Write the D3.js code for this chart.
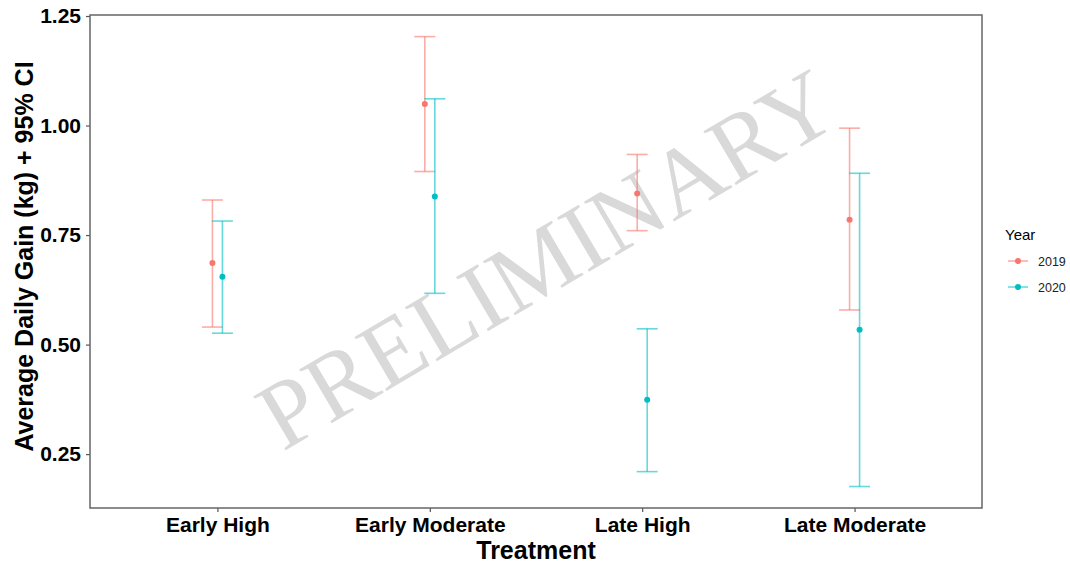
<!DOCTYPE html>
<html>
<head>
<meta charset="utf-8">
<script src="https://cdn.jsdelivr.net/npm/d3@7"></script>
<style>
  body { margin: 0; background: #fff; }
  text { font-family: "Liberation Sans", Arial, sans-serif; }
</style>
</head>
<body>
<div id="plot"></div>
<script>
// Data
const treatments = ['Early High', 'Early Moderate', 'Late High', 'Late Moderate'];
const years = ['2019', '2020'];
const mean2019 = [0.686, 1.049, 0.845, 0.785];
const lower2019 = [0.540, 0.895, 0.760, 0.579];
const upper2019 = [0.830, 1.203, 0.934, 0.994];
const mean2020 = [0.655, 0.838, 0.374, 0.534];
const lower2020 = [0.526, 0.617, 0.210, 0.176];
const upper2020 = [0.782, 1.061, 0.536, 0.891];
const yTicks = [0.25, 0.50, 0.75, 1.00, 1.25];
const yearColors = ['#F8766D', '#00BFC4'];

const W = 1070, H = 566;
const margin = {top: 15, right: 88, bottom: 58, left: 90};
const width = W - margin.left - margin.right;
const height = H - margin.top - margin.bottom;

const svg = d3.select('#plot').append('svg')
  .attr('width', W)
  .attr('height', H);

const g = svg.append('g')
  .attr('transform', 'translate(' + margin.left + ',' + margin.top + ')');

// Build rows [treatment, year, mean, lower, upper]
const rows = [];
treatments.forEach((t, i) => {
  rows.push({t: t, year: years[0], mean: mean2019[i], lo: lower2019[i], hi: upper2019[i]});
  rows.push({t: t, year: years[1], mean: mean2020[i], lo: lower2020[i], hi: upper2020[i]});
});

// Scales (0.6 step of outer padding, like ggplot's discrete expansion)
const x = d3.scalePoint()
  .domain(treatments)
  .range([0, width])
  .padding(0.6);
const dodge = d3.scalePoint().domain(years).range([-5, 5]);
const color = d3.scaleOrdinal().domain(years).range(yearColors);

const y = d3.scaleLinear()
  .domain([0.127, 1.2523])
  .range([height, 0]);

// Watermark
g.append('text')
  .attr('transform', 'translate(' + (546 - margin.left) + ',' + (258 - margin.top) + ') rotate(-30.5)')
  .attr('text-anchor', 'middle')
  .attr('dy', '0.35em')
  .style('font-family', '"Liberation Serif", "Times New Roman", serif')
  .style('font-size', '96px')
  .style('fill', '#d9d9d9')
  .text('PRELIMINARY');

// Error bars
const bars = g.append('g').selectAll('g.bar')
  .data(rows)
  .enter()
  .append('g')
  .attr('transform', d => 'translate(' + (x(d.t) + dodge(d.year)) + ',0)')
  .style('stroke', d => color(d.year))
  .style('stroke-width', 1.6)
  .style('stroke-opacity', 0.6);

bars.append('line')
  .attr('y1', d => y(d.lo))
  .attr('y2', d => y(d.hi));
bars.append('line')
  .attr('x1', -10.5).attr('x2', 10.5)
  .attr('y1', d => y(d.lo)).attr('y2', d => y(d.lo));
bars.append('line')
  .attr('x1', -10.5).attr('x2', 10.5)
  .attr('y1', d => y(d.hi)).attr('y2', d => y(d.hi));

// Points
g.append('g')
  .selectAll('circle')
  .data(rows)
  .enter()
  .append('circle')
    .attr('cx', d => x(d.t) + dodge(d.year))
    .attr('cy', d => y(d.mean))
    .attr('r', 3)
    .style('fill', d => color(d.year));

// Axes
const yAxis = g.append('g')
  .call(d3.axisLeft(y).tickValues(yTicks).tickFormat(d3.format('.2f')).tickSize(4).tickPadding(5));
const xAxis = g.append('g')
  .attr('transform', 'translate(0,' + height + ')')
  .call(d3.axisBottom(x).tickSize(4).tickPadding(5));

[xAxis, yAxis].forEach(a => {
  a.select('.domain').remove();
  a.selectAll('line').style('stroke', '#555').style('stroke-width', 1.2);
  a.selectAll('text')
    .style('font-size', '21px')
    .style('font-weight', 'bold')
    .style('fill', '#000');
});

// Panel border
g.append('rect')
  .attr('width', width)
  .attr('height', height)
  .style('fill', 'none')
  .style('stroke', '#666')
  .style('stroke-width', 1.5);

// Axis titles
svg.append('text')
  .attr('x', margin.left + width / 2)
  .attr('y', 559)
  .attr('text-anchor', 'middle')
  .style('font-size', '25px')
  .style('font-weight', 'bold')
  .text('Treatment');

svg.append('text')
  .attr('transform', 'translate(33,' + (margin.top + height / 2 - 5) + ') rotate(-90)')
  .attr('text-anchor', 'middle')
  .style('font-size', '25px')
  .style('font-weight', 'bold')
  .text('Average Daily Gain (kg) + 95% CI');

// Legend
const legend = svg.append('g').attr('transform', 'translate(1005,0)');
legend.append('text')
  .attr('x', 0).attr('y', 240)
  .style('font-size', '15px')
  .text('Year');

const keys = legend.selectAll('g.key')
  .data(years)
  .enter()
  .append('g')
  .attr('transform', (d, i) => 'translate(0,' + (261 + i * 26) + ')');
keys.append('line')
  .attr('x1', 3).attr('x2', 23)
  .style('stroke', d => color(d))
  .style('stroke-width', 1.6)
  .style('stroke-opacity', 0.6);
keys.append('circle')
  .attr('cx', 13).attr('r', 3)
  .style('fill', d => color(d));
keys.append('text')
  .attr('x', 33).attr('y', 5)
  .style('font-size', '12.5px')
  .style('fill', '#222')
  .text(d => d);
</script>
</body>
</html>
